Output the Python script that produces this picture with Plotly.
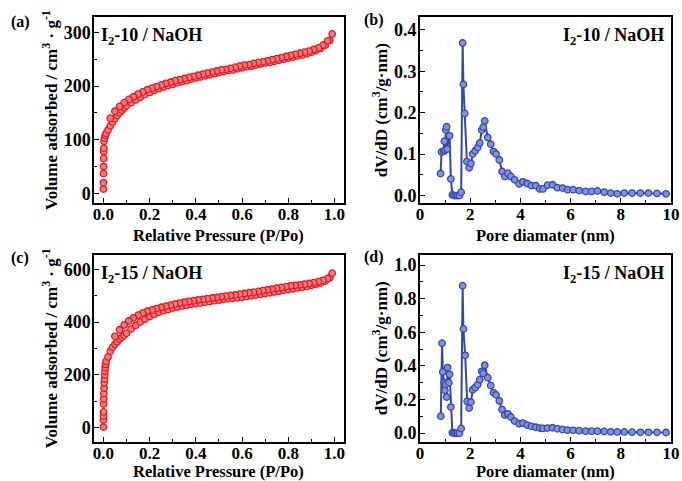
import plotly.graph_objects as go

# ---------------- data ----------------
# (a) I2-10 / NaOH isotherm
a_ads_p = [0.0002, 0.0004, 0.0006, 0.0008, 0.001, 0.0015, 0.002, 0.003, 0.005, 0.008, 0.012, 0.02, 0.03, 0.04,
           0.05, 0.06, 0.07, 0.08, 0.09, 0.10, 0.12, 0.14, 0.16, 0.18, 0.20, 0.22, 0.24, 0.26, 0.28, 0.30,
           0.32, 0.34, 0.36, 0.38, 0.40, 0.42, 0.44, 0.46, 0.48, 0.50, 0.52, 0.54, 0.56, 0.58, 0.60, 0.62,
           0.64, 0.66, 0.68, 0.70, 0.72, 0.74, 0.76, 0.78, 0.80, 0.82, 0.84, 0.86, 0.88, 0.90, 0.92, 0.94,
           0.96, 0.98, 0.99]
a_ads_v = [8, 20, 37, 50, 65, 78, 84, 97, 103, 108, 112, 118, 126, 133,
           139, 145, 150, 155, 159, 163, 169, 174, 179, 184, 188, 192, 195, 198, 201, 203,
           206, 208, 210, 213, 215, 217, 219, 221, 223, 225, 227, 229, 230, 232, 234, 236,
           237, 239, 241, 243, 244, 246, 248, 250, 252, 254, 256, 258, 260, 263, 266, 270,
           276, 285, 297]
a_des_p = [0.97, 0.95, 0.93, 0.91, 0.89, 0.87, 0.85, 0.83, 0.81, 0.79, 0.77, 0.75, 0.73, 0.71, 0.69, 0.67,
           0.65, 0.63, 0.61, 0.59, 0.57, 0.55, 0.53, 0.51, 0.49, 0.47, 0.45, 0.43, 0.41, 0.39, 0.37, 0.35,
           0.33, 0.31, 0.29, 0.27, 0.25, 0.23, 0.21, 0.19, 0.17, 0.15, 0.13, 0.11, 0.09, 0.07, 0.05, 0.03]
a_des_v = [284, 276, 271, 268, 265, 263, 261, 259, 257, 255, 253, 251, 249, 247, 245, 244,
           242, 240, 239, 237, 235, 233, 231, 230, 228, 226, 224, 222, 220, 218, 216, 214,
           212, 210, 207, 205, 202, 199, 196, 193, 189, 185, 180, 175, 169, 162, 153, 140]

# (c) I2-15 / NaOH isotherm
c_ads_p = [0.0002, 0.0004, 0.0006, 0.0008, 0.001, 0.0015, 0.002, 0.003, 0.004, 0.005, 0.006, 0.007, 0.008, 0.01,
           0.012, 0.02, 0.03, 0.04, 0.05, 0.06, 0.07, 0.08, 0.09, 0.10, 0.12, 0.14, 0.16, 0.18, 0.20, 0.22,
           0.24, 0.26, 0.28, 0.30, 0.32, 0.34, 0.36, 0.38, 0.40, 0.42, 0.44, 0.46, 0.48, 0.50, 0.52, 0.54,
           0.56, 0.58, 0.60, 0.62, 0.64, 0.66, 0.68, 0.70, 0.72, 0.74, 0.76, 0.78, 0.80, 0.82, 0.84, 0.86,
           0.88, 0.90, 0.92, 0.94, 0.96, 0.98, 0.99]
c_ads_v = [3, 30, 45, 60, 90, 110, 130, 150, 170, 185, 200, 215, 228, 240,
           252, 268, 290, 305, 316, 326, 335, 343, 350, 358, 374, 388, 400, 411, 421, 430,
           437, 443, 448, 453, 457, 461, 464, 467, 470, 472, 475, 478, 481, 483, 486, 488,
           490, 492, 494, 497, 500, 502, 505, 508, 511, 514, 517, 520, 523, 526, 529, 532,
           535, 539, 543, 548, 555, 568, 585]
c_des_p = [0.97, 0.95, 0.93, 0.91, 0.89, 0.87, 0.85, 0.83, 0.81, 0.79, 0.77, 0.75, 0.73, 0.71, 0.69, 0.67,
           0.65, 0.63, 0.61, 0.59, 0.57, 0.55, 0.53, 0.51, 0.49, 0.47, 0.45, 0.43, 0.41, 0.39, 0.37, 0.35,
           0.33, 0.31, 0.29, 0.27, 0.25, 0.23, 0.21, 0.19, 0.17, 0.15, 0.13, 0.11, 0.09, 0.07, 0.05]
c_des_v = [565, 558, 553, 549, 546, 543, 541, 539, 537, 534, 531, 528, 525, 522, 519, 516,
           513, 511, 508, 506, 503, 501, 498, 496, 493, 491, 489, 486, 484, 481, 478, 475,
           472, 468, 464, 460, 456, 451, 446, 441, 434, 426, 416, 404, 389, 371, 346]

# (b) I2-10 / NaOH pore size distribution
b_d = [0.82, 0.86, 0.95, 0.97, 1.00, 1.03, 1.06, 1.09, 1.13, 1.18, 1.23, 1.29, 1.36, 1.43, 1.50, 1.57,
       1.64, 1.70, 1.73, 1.78, 1.87, 1.96, 2.03, 2.10, 2.20, 2.30, 2.38, 2.46, 2.52, 2.58, 2.70, 2.82,
       2.93, 3.03, 3.16, 3.27, 3.38, 3.50, 3.62, 3.77, 3.95, 4.10, 4.27, 4.44, 4.61, 4.77, 4.90, 5.08,
       5.28, 5.47, 5.68, 5.88, 6.10, 6.34, 6.60, 6.84, 7.07, 7.34, 7.60, 7.86, 8.14, 8.45, 8.78, 9.10,
       9.44, 9.80]
b_v = [0.053, 0.105, 0.107, 0.131, 0.110, 0.158, 0.166, 0.112, 0.144, 0.144, 0.040, 0.002, 0.0, 0.0, 0.0, 0.0,
       0.008, 0.368, 0.268, 0.198, 0.082, 0.067, 0.077, 0.100, 0.108, 0.116, 0.127, 0.158, 0.165, 0.180, 0.140, 0.124,
       0.106, 0.100, 0.086, 0.058, 0.046, 0.054, 0.046, 0.038, 0.028, 0.033, 0.029, 0.024, 0.024, 0.016, 0.016, 0.025,
       0.026, 0.019, 0.018, 0.014, 0.014, 0.012, 0.010, 0.010, 0.011, 0.008, 0.006, 0.004, 0.006, 0.006, 0.006, 0.006,
       0.005, 0.004]

# (d) I2-15 / NaOH pore size distribution
d_d = [0.83, 0.88, 0.91, 0.96, 0.99, 1.02, 1.06, 1.10, 1.15, 1.18, 1.23, 1.29, 1.36, 1.43, 1.50, 1.57,
       1.64, 1.70, 1.73, 1.80, 1.88, 1.96, 2.03, 2.10, 2.20, 2.30, 2.38, 2.46, 2.52, 2.58, 2.70, 2.82,
       2.93, 3.03, 3.16, 3.27, 3.38, 3.50, 3.62, 3.77, 3.95, 4.10, 4.27, 4.44, 4.61, 4.77, 4.90, 5.08,
       5.28, 5.47, 5.68, 5.88, 6.10, 6.34, 6.60, 6.84, 7.07, 7.34, 7.60, 7.86, 8.14, 8.45, 8.78, 9.10,
       9.44, 9.80]
d_v = [0.101, 0.535, 0.364, 0.300, 0.255, 0.290, 0.215, 0.390, 0.300, 0.350, 0.155, 0.003, 0.0, 0.0, 0.0, 0.0,
       0.028, 0.877, 0.620, 0.463, 0.189, 0.149, 0.185, 0.258, 0.272, 0.290, 0.318, 0.368, 0.355, 0.404, 0.330, 0.284,
       0.240, 0.228, 0.192, 0.140, 0.108, 0.115, 0.096, 0.072, 0.056, 0.060, 0.048, 0.040, 0.035, 0.030, 0.028, 0.030,
       0.032, 0.026, 0.022, 0.018, 0.017, 0.015, 0.012, 0.012, 0.012, 0.010, 0.008, 0.007, 0.007, 0.006, 0.005, 0.005,
       0.005, 0.004]

panel_labels = ["(a)", "(b)", "(c)", "(d)"]
sample_labels = ["I<sub>2</sub>-10 / NaOH", "I<sub>2</sub>-10 / NaOH", "I<sub>2</sub>-15 / NaOH", "I<sub>2</sub>-15 / NaOH"]
x_titles = ["Relative Pressure (P/Po)", "Pore diamater (nm)", "Relative Pressure (P/Po)", "Pore diamater (nm)"]
vol_title = "Volume adsorbed / cm<sup>3</sup> · g<sup>-1</sup>"
psd_title = "dV/dD (cm<sup>3</sup>/g·nm)"

# ---------------- styling ----------------
FONT = "Liberation Serif"
RED_FILL = "#ff7a7a"
RED_LINE = "#e8141e"
BLUE_FILL = "#8090dc"
BLUE_LINE = "#3447ad"

fig = go.Figure()

def iso_marker():
    return dict(symbol="circle", size=6.5, color=RED_FILL, line=dict(color=RED_LINE, width=1.3))

def psd_marker():
    return dict(symbol="circle", size=6.5, color=BLUE_FILL, line=dict(color=BLUE_LINE, width=1.3))

fig.add_trace(go.Scatter(x=a_ads_p, y=a_ads_v, mode="markers", marker=iso_marker(), xaxis="x", yaxis="y", showlegend=False))
fig.add_trace(go.Scatter(x=a_des_p, y=a_des_v, mode="markers", marker=iso_marker(), xaxis="x", yaxis="y", showlegend=False))
fig.add_trace(go.Scatter(x=b_d, y=b_v, mode="lines+markers", line=dict(color=BLUE_LINE, width=2), marker=psd_marker(),
                         xaxis="x2", yaxis="y2", showlegend=False))
fig.add_trace(go.Scatter(x=c_ads_p, y=c_ads_v, mode="markers", marker=iso_marker(), xaxis="x3", yaxis="y3", showlegend=False))
fig.add_trace(go.Scatter(x=c_des_p, y=c_des_v, mode="markers", marker=iso_marker(), xaxis="x3", yaxis="y3", showlegend=False))
fig.add_trace(go.Scatter(x=d_d, y=d_v, mode="lines+markers", line=dict(color=BLUE_LINE, width=2), marker=psd_marker(),
                         xaxis="x4", yaxis="y4", showlegend=False))

def ax(domain, rng, dtick, minor_dtick, fmt, title, anchor, standoff, lblstand, tsize):
    return dict(domain=domain, range=rng, dtick=dtick, tick0=0, tickformat=fmt,
                showgrid=False, zeroline=False, showline=True, linecolor="black", linewidth=1.7, mirror=True,
                ticks="inside", ticklen=5, tickwidth=1.4, tickcolor="black",
                minor=dict(dtick=minor_dtick, tick0=0, ticks="inside", ticklen=3, tickwidth=1.2, tickcolor="black", showgrid=False),
                tickfont=dict(family=FONT, size=tsize, color="black", weight="bold"),
                ticklabelstandoff=lblstand,
                title=dict(text=title, font=dict(family=FONT, size=17, color="black", weight="bold"), standoff=standoff),
                anchor=anchor, automargin=False)

XL = [0.138, 0.504]
XR = [0.6158, 0.9839]
YT = [0.578, 0.964]
YB = [0.082, 0.47]

fig.update_layout(
    width=682, height=481,
    margin=dict(l=0, r=0, t=0, b=0),
    paper_bgcolor="white", plot_bgcolor="white",
    font=dict(family=FONT, size=16, color="black", weight="bold"),
    xaxis=ax(XL, [-0.04, 1.04], 0.2, 0.1, ".1f", "", "y", 0, -5, 17),
    yaxis=ax(YT, [-18, 328], 100, 50, "d", vol_title, "x", 2, -2, 18),
    xaxis2=ax(XR, [0, 10], 2, 1, "d", "", "y2", 0, -5, 17),
    yaxis2=ax(YT, [-0.018, 0.43], 0.1, 0.05, ".1f", psd_title, "x2", 2, -2, 18),
    xaxis3=ax(XL, [-0.04, 1.04], 0.2, 0.1, ".1f", "", "y3", 0, -5, 17),
    yaxis3=ax(YB, [-52, 654], 200, 100, "d", vol_title, "x3", 2, -2, 18),
    xaxis4=ax(XR, [0, 10], 2, 1, "d", "", "y4", 0, -5, 17),
    yaxis4=ax(YB, [-0.05, 1.06], 0.2, 0.1, ".1f", psd_title, "x4", 2, -2, 18),
)

ann = []
pos = [(0.013, 0.955), (0.531, 0.958), (0.013, 0.464), (0.531, 0.466)]
for (px, py), t in zip(pos, panel_labels):
    ann.append(dict(text=t, x=px, y=py, xref="paper", yref="paper", xanchor="left", yanchor="middle",
                    showarrow=False, font=dict(family=FONT, size=16, color="black", weight="bold")))
# x-axis titles
title_font = dict(family=FONT, size=16.5, color="black", weight="bold")
xt_pos = [(sum(XL) / 2, 1 - 235 / 481), (sum(XR) / 2, 1 - 235 / 481), (sum(XL) / 2, 1 - 471 / 481), (sum(XR) / 2, 1 - 471 / 481)]
for (px, py), t in zip(xt_pos, x_titles):
    ann.append(dict(text=t, x=px, y=py, xref="paper", yref="paper", xanchor="center", yanchor="middle",
                    showarrow=False, font=title_font))
lab_font = dict(family=FONT, size=18, color="black", weight="bold")
ann.append(dict(text=sample_labels[0], x=0.02, y=0.97, xref="x domain", yref="y domain", xanchor="left", yanchor="top",
                showarrow=False, font=lab_font))
ann.append(dict(text=sample_labels[1], x=0.98, y=0.97, xref="x2 domain", yref="y2 domain", xanchor="right", yanchor="top",
                showarrow=False, font=lab_font))
ann.append(dict(text=sample_labels[2], x=0.02, y=0.97, xref="x3 domain", yref="y3 domain", xanchor="left", yanchor="top",
                showarrow=False, font=lab_font))
ann.append(dict(text=sample_labels[3], x=0.98, y=0.97, xref="x4 domain", yref="y4 domain", xanchor="right", yanchor="top",
                showarrow=False, font=lab_font))
fig.update_layout(annotations=ann)

fig.write_html("out.html", config={"displayModeBar": False},
               post_script="document.body.style.margin='0';document.body.style.padding='0';")
